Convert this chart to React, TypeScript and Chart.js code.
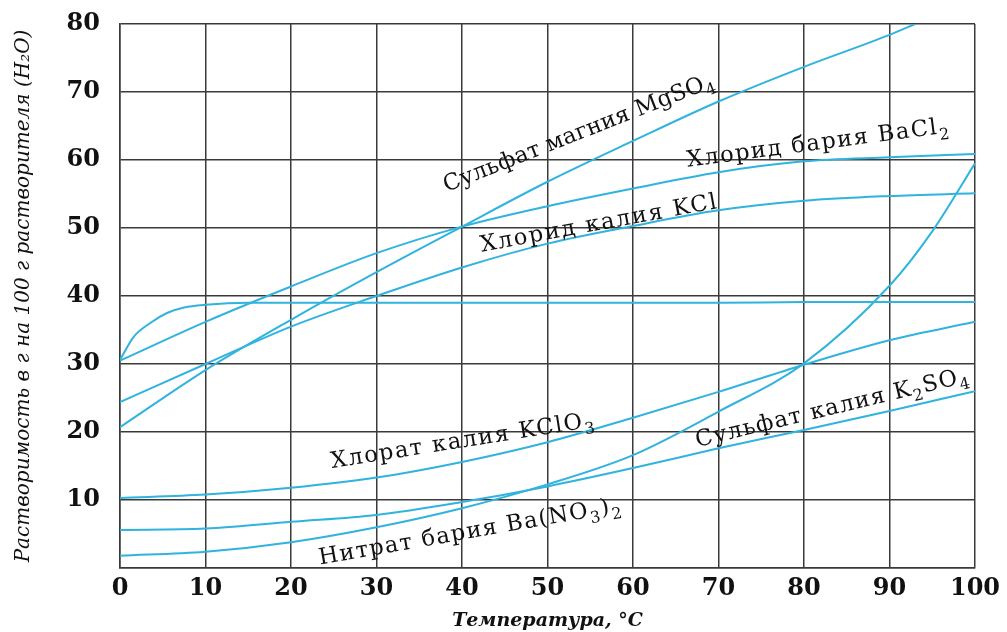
import React, { useEffect, useRef } from 'react';
import { Chart, registerables } from 'chart.js';

Chart.register(...registerables);

// ---- data ----
const temps = [0, 10, 20, 30, 40, 50, 60, 70, 80, 90, 100];

const mgso4Temps = [0, 10, 20, 30, 40, 50, 60, 70, 80, 90, 93];
const mgso4 = [20.7, 29.1, 36.5, 43.5, 50.2, 56.8, 62.8, 68.6, 73.7, 78.4, 80];

const bacl2 = [30.5, 36.2, 41.4, 46.3, 50.2, 53.2, 55.8, 58.2, 59.8, 60.4, 60.9];
const kcl = [24.4, 30.0, 35.5, 40.0, 44.2, 47.7, 50.3, 52.6, 54.0, 54.7, 55.1];

const naclTemps = [0, 1.6, 3.5, 5.5, 7.5, 10, 15, 20, 30, 40, 50, 60, 70, 80, 90, 100];
const nacl = [30.6, 34.0, 36.0, 37.5, 38.3, 38.7, 39.0, 39.0, 39.0, 39.0, 39.0, 39.0, 39.0, 39.1, 39.1, 39.1];

const upperLow = [10.3, 10.8, 11.8, 13.3, 15.6, 18.5, 22.1, 25.9, 29.9, 33.5, 36.2];
const k2so4 = [5.6, 5.8, 6.8, 7.8, 9.7, 12.0, 14.7, 17.6, 20.3, 23.1, 26.0];

const steepTemps = [0, 10, 20, 30, 40, 50, 60, 70, 80, 90, 95, 100];
const steep = [1.8, 2.4, 3.8, 6.0, 8.8, 12.3, 16.6, 23.0, 30.1, 41.5, 49.5, 59.5];

const xTickLabels = ['0', '10', '20', '30', '40', '50', '60', '70', '80', '90', '100'];
const yTickLabels = ['', '10', '20', '30', '40', '50', '60', '70', '80'];

const xTitle = 'Температура, °C';
const yTitle = 'Растворимость в г на 100 г растворителя (H₂O)';

// curve labels: text segments (sub = subscript), anchor in data units, angle in degrees
const curveLabels = [
  { parts: [{ t: 'Сульфат магния MgSO' }, { t: '4', sub: true }], x: 38.2, y: 55.3, angle: 21.5, spacing: 0.3 },
  { parts: [{ t: 'Хлорид бария BaCl' }, { t: '2', sub: true }], x: 66.4, y: 59.0, angle: 7.5, spacing: 1.6 },
  { parts: [{ t: 'Хлорид калия KCl' }], x: 42.3, y: 46.5, angle: 10.5, spacing: 1.8 },
  { parts: [{ t: 'Хлорат калия KClO' }, { t: '3', sub: true }], x: 24.8, y: 14.7, angle: 9, spacing: 1.6 },
  { parts: [{ t: 'Нитрат бария Ba(NO' }, { t: '3', sub: true }, { t: ')' }, { t: '2', sub: true }], x: 23.4, y: 0.5, angle: 10, spacing: 1.4 },
  { parts: [{ t: 'Сульфат калия K' }, { t: '2', sub: true }, { t: 'SO' }, { t: '4', sub: true }], x: 67.5, y: 17.8, angle: 13.5, spacing: 1.3 },
];

const LINE = '#30b3de';
const GRID = '#3a3a3a';
const SERIF = '"DejaVu Serif", serif';

const toPts = (xs: number[], ys: number[]) => xs.map((x, i) => ({ x, y: ys[i] }));

const labelPlugin = {
  id: 'curveLabels',
  afterDatasetsDraw(chart: any) {
    const { ctx, scales } = chart;
    const fs = 22.5;
    ctx.save();
    ctx.fillStyle = '#111';
    ctx.textBaseline = 'alphabetic';
    ctx.textAlign = 'left';
    for (const lab of curveLabels) {
      const px = scales.x.getPixelForValue(lab.x);
      const py = scales.y.getPixelForValue(lab.y);
      ctx.save();
      ctx.translate(px, py);
      ctx.rotate((-lab.angle * Math.PI) / 180);
      (ctx as any).letterSpacing = `${lab.spacing}px`;
      let cx = 0;
      for (const p of lab.parts as any[]) {
        if (p.sub) {
          ctx.font = `${Math.round(fs * 0.72)}px ${SERIF}`;
          ctx.fillText(p.t, cx, fs * 0.28);
        } else {
          ctx.font = `${fs}px ${SERIF}`;
          ctx.fillText(p.t, cx, 0);
        }
        cx += ctx.measureText(p.t).width;
      }
      ctx.restore();
    }
    ctx.restore();
  },
};

export default function App() {
  const ref = useRef<HTMLCanvasElement>(null);

  useEffect(() => {
    if (!ref.current) return;
    const ds = (label: string, data: any[]) => ({
      label,
      data,
      borderColor: LINE,
      backgroundColor: LINE,
      borderWidth: 2,
      pointRadius: 0,
      fill: false,
      cubicInterpolationMode: 'monotone' as const,
    });
    const chart = new Chart(ref.current, {
      type: 'line',
      data: {
        datasets: [
          ds('MgSO4', toPts(mgso4Temps, mgso4)),
          ds('BaCl2', toPts(temps, bacl2)),
          ds('KCl', toPts(temps, kcl)),
          ds('NaCl', toPts(naclTemps, nacl)),
          ds('Ba(NO3)2', toPts(temps, upperLow)),
          ds('K2SO4', toPts(temps, k2so4)),
          ds('KClO3', toPts(steepTemps, steep)),
        ],
      },
      options: {
        responsive: false,
        animation: false,
        parsing: true,
        layout: { padding: { top: 24, right: 32, left: 0, bottom: 0 } },
        plugins: { legend: { display: false }, tooltip: { enabled: false } },
        scales: {
          x: {
            type: 'linear',
            min: 0,
            max: 100,
            afterFit: (s: any) => { s.height = 64; s.paddingLeft = 0; s.paddingRight = 0; },
            ticks: {
              stepSize: 10,
              padding: 6,
              color: '#111',
              font: { family: SERIF, size: 24, weight: 'bold' },
              callback: (v: any) => xTickLabels[Math.round(Number(v) / 10)] ?? '',
            },
            grid: { color: GRID, lineWidth: 1.5, drawTicks: false },
            border: { color: GRID, width: 1.5 },
            title: {
              display: true,
              text: xTitle,
              color: '#111',
              font: { family: SERIF, size: 19, style: 'italic', weight: 'bold' },
              padding: { top: 0, bottom: 0 },
            },
          },
          y: {
            type: 'linear',
            min: 0,
            max: 80,
            afterFit: (s: any) => { s.width = 120; s.paddingTop = 0; s.paddingBottom = 0; },
            ticks: {
              stepSize: 10,
              padding: 20,
              color: '#111',
              font: { family: SERIF, size: 24, weight: 'bold' },
              callback: (v: any) => yTickLabels[Math.round(Number(v) / 10)] ?? '',
            },
            grid: { color: GRID, lineWidth: 1.5, drawTicks: false },
            border: { color: GRID, width: 1.5 },
            title: {
              display: true,
              text: yTitle,
              color: '#111',
              font: { family: SERIF, size: 20, style: 'italic' },
              padding: { top: 12, bottom: 0 },
            },
          },
        },
      },
      plugins: [labelPlugin],
    });
    return () => chart.destroy();
  }, []);

  return (
    <div style={{ position: 'fixed', left: 0, top: 0, width: 1007, height: 632, background: '#fff' }}>
      <canvas ref={ref} width={1007} height={632} />
    </div>
  );
}
